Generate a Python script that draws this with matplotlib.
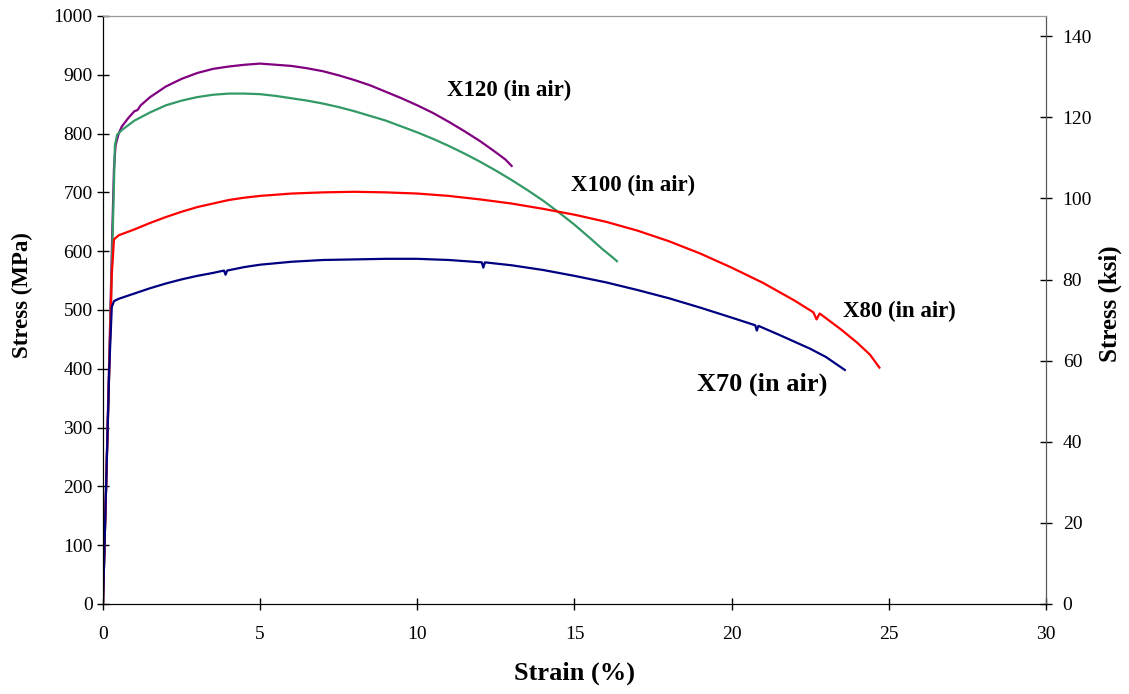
import numpy as np
import matplotlib
matplotlib.use("Agg")
import matplotlib.pyplot as plt

# stress-strain curves (strain %, stress MPa)
x120_strain = [0, 0.1, 0.2, 0.3, 0.35, 0.4, 0.5, 0.6, 0.8, 1.0, 1.1, 1.2, 1.5, 2, 2.5, 3, 3.5, 4, 4.5,
               5, 5.5, 6, 6.5, 7, 7.5, 8, 8.5, 9, 9.5, 10, 10.5, 11, 11.5, 12, 12.5, 12.8, 13.0]
x120_stress = [0, 200, 420, 640, 740, 780, 800, 812, 826, 838, 840, 848, 862, 880, 893, 903, 910, 914, 917,
               919, 917, 915, 911, 906, 899, 891, 882, 871, 860, 848, 835, 820, 804, 787, 768, 756, 745]

x100_strain = [0, 0.1, 0.2, 0.3, 0.38, 0.45, 0.6, 0.8, 1.0, 1.5, 2, 2.5, 3, 3.5, 4, 4.5, 5, 5.5, 6, 6.5,
               7, 7.5, 8, 8.5, 9, 9.5, 10, 10.5, 11, 11.5, 12, 12.5, 13, 13.5, 14, 14.5, 15, 15.5,
               15.9, 16.2, 16.35]
x100_stress = [0, 200, 400, 610, 780, 798, 806, 814, 822, 836, 848, 856, 862, 866, 868, 868, 867, 864, 860, 856,
               851, 845, 838, 830, 822, 812, 802, 791, 779, 766, 752, 737, 721, 704, 686, 666, 645, 622,
               603, 590, 583]

x80_strain = [0, 0.1, 0.2, 0.28, 0.35, 0.5, 0.8, 1, 1.5, 2, 2.5, 3, 3.5, 4, 4.5, 5, 6, 7, 8, 9, 10, 11,
              12, 13, 14, 15, 16, 17, 18, 19, 20, 21, 22, 22.6, 22.7, 22.8, 23, 23.5, 24, 24.4, 24.7]
x80_stress = [0, 200, 400, 560, 620, 627, 633, 637, 648, 658, 667, 675, 681, 687, 691, 694, 698, 700, 701, 700, 698, 694,
              688, 681, 672, 662, 650, 635, 617, 596, 572, 546, 516, 496, 484, 494, 486, 466, 444, 424, 402]

x70_strain = [0, 0.1, 0.2, 0.28, 0.35, 0.5, 1, 1.5, 2, 2.5, 3, 3.5, 3.85, 3.9, 3.95, 4.5, 5, 6, 7, 8, 9, 10,
              11, 12.05, 12.1, 12.15, 13, 14, 15, 16, 17, 18, 19, 20, 20.75, 20.8, 20.85, 21.5, 22, 22.5,
              23, 23.6]
x70_stress = [0, 200, 400, 505, 515, 519, 528, 537, 545, 552, 558, 563, 567, 560, 567, 573, 577, 582, 585, 586, 587, 587,
              585, 581, 572, 581, 576, 568, 558, 547, 534, 520, 504, 487, 474, 465, 473, 458, 446, 434,
              420, 398]

series = [
    ("X120", x120_strain, x120_stress, "#800080"),
    ("X100", x100_strain, x100_stress, "#339966"),
    ("X80", x80_strain, x80_stress, "#FF0000"),
    ("X70", x70_strain, x70_stress, "#000080"),
]

# label text, strain, stress, font size
labels = [
    ("X120 (in air)", 12.92, 874, 16.5),
    ("X100 (in air)", 16.86, 712, 16.5),
    ("X80 (in air)", 25.33, 497, 16.5),
    ("X70 (in air)", 20.97, 374, 19),
]

plt.rcParams["font.family"] = ["Liberation Serif", "DejaVu Serif"]

fig = plt.figure(figsize=(11.29, 6.94), dpi=100)
ax = fig.add_axes([0.0912, 0.1297, 0.8353, 0.8473])

for name, xs, ys, col in series:
    ax.plot(xs, ys, color=col, lw=1.6)

for text, tx, ty, fs in labels:
    ax.text(tx, ty, text, fontsize=fs, fontweight="bold", ha="center", va="center")

ax.set_xlim(0, 30)
ax.set_ylim(0, 1000)
ax.set_xticks(np.arange(0, 31, 5))
ax.set_yticks(np.arange(0, 1001, 100))
ax.tick_params(direction="inout", length=8, labelsize=14, width=1)
ax.tick_params(axis="x", pad=12)
ax.set_xlabel("Strain (%)", fontsize=19, fontweight="bold")
ax.xaxis.set_label_coords(0.5, -0.098)
ax.set_ylabel("Stress (MPa)", fontsize=16.5, fontweight="bold")
ax.yaxis.set_label_coords(-0.074, 0.525)
ax.spines["top"].set_color("#999999")
ax.spines["left"].set_color("black")
ax.spines["bottom"].set_color("#333333")
ax.spines["right"].set_color("#555555")

ax2 = ax.twinx()
ax2.set_ylim(0, 145.0)
ax2.set_yticks(np.arange(0, 141, 20))
ax2.tick_params(direction="inout", length=8, labelsize=14, width=1, pad=8)
ax2.set_ylabel("Stress (ksi)", fontsize=18, fontweight="bold")
ax2.yaxis.set_label_coords(1.056, 0.51)
ax2.spines["right"].set_color("#555555")
ax2.spines["top"].set_color("#999999")

fig.savefig("out.png", dpi=100)
